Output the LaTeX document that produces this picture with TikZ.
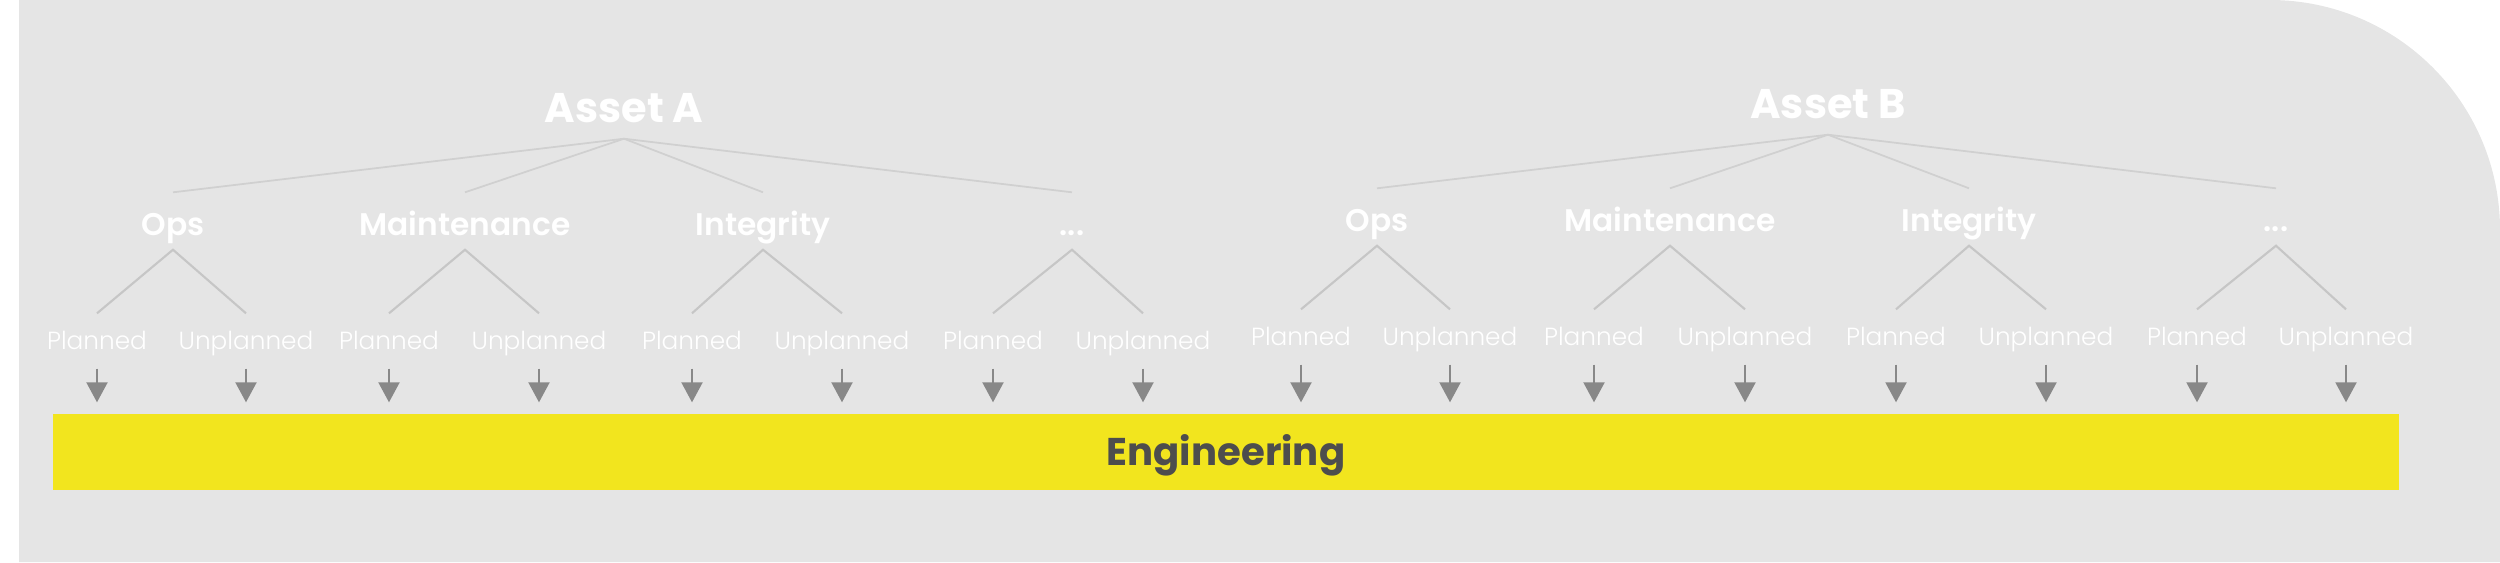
\documentclass[tikz,border=0pt]{standalone}
\usepackage{fontspec}
\setmainfont{Poppins}
\IfFontExistsTF{Poppins SemiBold}{\newfontfamily\headfont{Poppins SemiBold}}{\newcommand\headfont{\bfseries}}
\IfFontExistsTF{Poppins Light}{\newfontfamily\leaffont{Poppins Light}}{\newcommand\leaffont{\normalfont}}
\usetikzlibrary{arrows.meta}

\definecolor{bggray}{HTML}{E5E5E5}
\definecolor{trunkgray}{HTML}{D0D0D0}
\definecolor{branchgray}{HTML}{C6C6C6}
\definecolor{feedgray}{HTML}{888888}
\definecolor{baryellow}{HTML}{F2E51E}
\definecolor{engtext}{HTML}{4D4D4D}

\begin{document}
\begin{tikzpicture}[
  asset/.style={font=\bfseries\fontsize{11.8}{14}\selectfont, text=white, inner sep=0pt, inner ysep=0.16cm, text depth=0pt, anchor=base},
  area/.style={font=\headfont\fontsize{8.9}{10}\selectfont, text=white, inner sep=0pt, inner ysep=0.14cm, text height=0.28cm, text depth=0pt, anchor=base},
  leaf/.style={font=\leaffont\fontsize{7.05}{8}\selectfont, text=white, inner sep=0pt, inner ysep=0.12cm, text height=0.23cm, text depth=0.07cm, anchor=base},
  trunk/.style={draw=trunkgray, line width=0.5pt},
  branch/.style={draw=branchgray, line width=0.6pt},
  feed/.style={draw=feedgray, line width=0.6pt, -{Triangle[width=0.21cm,length=0.2cm]}, shorten >=0.11cm}
]

  \useasboundingbox (0,0) rectangle (25,-5.62);
  \fill[bggray] (0.19,-5.62) -- (0.19,0) -- (22.7,0) arc[start angle=90, end angle=0, radius=2.3] -- (25,-5.62) -- cycle;

  \node[fill=baryellow, minimum width=23.46cm, minimum height=0.76cm, inner sep=0pt, text height=0.26cm, text depth=0pt,
        font=\bfseries\fontsize{11}{13}\selectfont, text=engtext] (eng) at (12.26,-4.52) {Engineering};

  \node[asset] (assetA) at (6.24,-1.22) {Asset A};
  \node[asset] (assetB) at (18.28,-1.18) {Asset B};

  \node[area] (opsA) at (1.73,-2.35) {Ops};
  \node[area] (mntA) at (4.65,-2.35) {Maintenance};
  \node[area] (intA) at (7.63,-2.35) {Integrity};
  \node[area] (etcA) at (10.72,-2.35) {...};
  \node[area] (opsB) at (13.77,-2.31) {Ops};
  \node[area] (mntB) at (16.70,-2.31) {Maintenance};
  \node[area] (intB) at (19.69,-2.31) {Integrity};
  \node[area] (etcB) at (22.76,-2.31) {...};

  \node[leaf] (opsA-p) at (0.97,-3.49) {Planned};
  \node[leaf] (opsA-u) at (2.46,-3.49) {Unplanned};
  \node[leaf] (mntA-p) at (3.89,-3.49) {Planned};
  \node[leaf] (mntA-u) at (5.39,-3.49) {Unplanned};
  \node[leaf] (intA-p) at (6.92,-3.49) {Planned};
  \node[leaf] (intA-u) at (8.42,-3.49) {Unplanned};
  \node[leaf] (etcA-p) at (9.93,-3.49) {Planned};
  \node[leaf] (etcA-u) at (11.43,-3.49) {Unplanned};
  \node[leaf] (opsB-p) at (13.01,-3.45) {Planned};
  \node[leaf] (opsB-u) at (14.50,-3.45) {Unplanned};
  \node[leaf] (mntB-p) at (15.94,-3.45) {Planned};
  \node[leaf] (mntB-u) at (17.45,-3.45) {Unplanned};
  \node[leaf] (intB-p) at (18.96,-3.45) {Planned};
  \node[leaf] (intB-u) at (20.46,-3.45) {Unplanned};
  \node[leaf] (etcB-p) at (21.97,-3.45) {Planned};
  \node[leaf] (etcB-u) at (23.46,-3.45) {Unplanned};

  % asset to areas
  \foreach \c in {opsA,mntA,intA,etcA} \draw[trunk] (assetA.south) -- (\c.north);
  \foreach \c in {opsB,mntB,intB,etcB} \draw[trunk] (assetB.south) -- (\c.north);

  % areas to planned / unplanned, then down to the bar
  \foreach \c in {opsA,mntA,intA,etcA,opsB,mntB,intB,etcB} {
    \draw[branch] (\c-p.north) -- (\c.south) -- (\c-u.north);
    \draw[feed] (\c-p.south) -- (\c-p.south |- eng.north);
    \draw[feed] (\c-u.south) -- (\c-u.south |- eng.north);
  }

\end{tikzpicture}
\end{document}
